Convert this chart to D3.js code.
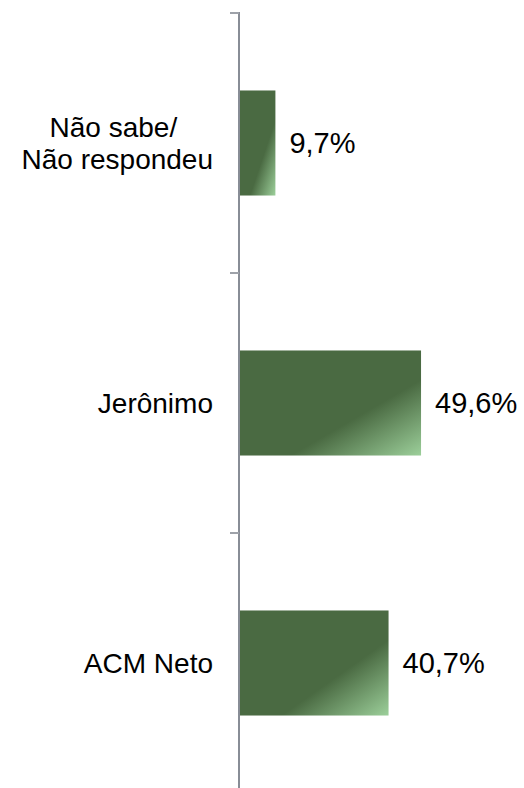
<!DOCTYPE html>
<html>
<head>
<meta charset="utf-8">
<script src="https://cdn.jsdelivr.net/npm/d3@7"></script>
<style>
  body { margin: 0; background: #fff; }
  text { font-family: "Liberation Sans", Arial, sans-serif; fill: #000; white-space: pre; }
</style>
</head>
<body>
<script>
// categories top to bottom, each label split into lines
var categories = ["Não sabe/ Não respondeu", "Jerônimo", "ACM Neto"];
var labelLines = [["Não sabe/ ", "Não respondeu"], ["Jerônimo"], ["ACM Neto"]];
var values = [9.7, 49.6, 40.7];

var w = 524, h = 788;
var svg = d3.select("body").append("svg").attr("width", w).attr("height", h);

var defs = svg.append("defs");
var grad = defs.append("linearGradient").attr("id", "barGrad")
  .attr("x1", 0).attr("y1", 0).attr("x2", 1).attr("y2", 1);
grad.append("stop").attr("offset", "0%").attr("stop-color", "#4a6a42");
grad.append("stop").attr("offset", "64%").attr("stop-color", "#4a6a42");
grad.append("stop").attr("offset", "100%").attr("stop-color", "#9ccf9a");

var x = d3.scaleLinear().domain([0, 60]).range([240, 459]);
var y = d3.scaleBand().domain(categories).range([13, 793]).paddingInner(0.596).paddingOuter(0.298);
var step = y.step();

// axis line and ticks (category boundaries)
svg.append("line")
  .attr("x1", 239).attr("x2", 239).attr("y1", 12).attr("y2", h)
  .attr("stroke", "#888d96").attr("stroke-width", 2);

var ticks = d3.range(categories.length + 1).map(function (i) { return 13 + i * step; });
svg.selectAll(".tick").data(ticks).enter().append("line")
  .attr("class", "tick")
  .attr("x1", 230).attr("x2", 239)
  .attr("y1", function (d) { return d; }).attr("y2", function (d) { return d; })
  .attr("stroke", "#9ea2a9").attr("stroke-width", 2);

svg.selectAll(".bar").data(values).enter().append("rect")
  .attr("class", "bar")
  .attr("x", x(0))
  .attr("y", function (d, i) { return y(categories[i]); })
  .attr("width", function (d) { return x(d) - x(0); })
  .attr("height", y.bandwidth())
  .attr("fill", "url(#barGrad)");

svg.selectAll(".val").data(values).enter().append("text")
  .attr("class", "val")
  .attr("x", function (d) { return x(d) + 14; })
  .attr("y", function (d, i) { return y(categories[i]) + y.bandwidth() / 2; })
  .attr("dy", "0.35em")
  .style("font-size", "29px")
  .text(function (d) { return d.toFixed(1).replace(".", ",") + "%"; });

var labelRight = 213;
labelLines.forEach(function (lines, i) {
  var cy = y(categories[i]) + y.bandwidth() / 2;
  var t = svg.append("text").style("font-size", "28px");
  if (lines.length === 1) {
    t.attr("x", labelRight).attr("y", cy).attr("dy", "0.35em")
      .attr("text-anchor", "end").text(lines[0]);
  } else {
    // centred lines, block right-aligned to labelRight
    var tmp = [];
    lines.forEach(function (s, j) {
      tmp.push(t.append("tspan").attr("y", cy + (j - (lines.length - 1) / 2) * 32)
        .attr("dy", "0.35em").attr("text-anchor", "middle").text(s));
    });
    var maxW = d3.max(tmp, function (s) { return s.node().getComputedTextLength(); });
    tmp.forEach(function (s) { s.attr("x", labelRight - maxW / 2); });
  }
});
</script>
</body>
</html>
